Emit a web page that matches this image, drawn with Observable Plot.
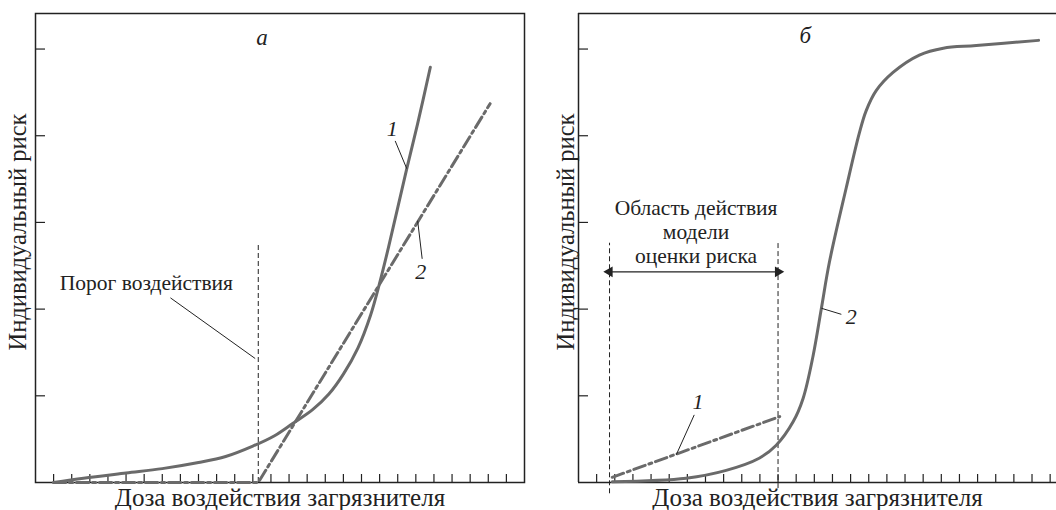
<!DOCTYPE html>
<html><head><meta charset="utf-8">
<script src="https://cdn.jsdelivr.net/npm/d3@7"></script>
<script src="https://cdn.jsdelivr.net/npm/@observablehq/plot@0.6"></script>
<style>
html,body{margin:0;padding:0;background:#fff;overflow:hidden}
#wrap{position:relative;width:1056px;height:510px}
#pa,#pb{position:absolute;top:0}
#pa{left:0}
#pb{left:528px}
svg{font-family:"Liberation Serif","Times New Roman",serif}
</style></head><body>
<div id="wrap"><div id="pa"></div><div id="pb"></div></div>
<script>
// ---- shared axis data ----
const xTicks = [1,2,3,4,5,6,7,8,9,10,11,12,13,14,15,16,17,18,19,20,21,22,23,24,25,26];
const yTicks = [1,2,3,4,5];
const xTitle = "Доза воздействия загрязнителя";
const yTitle = "Индивидуальный риск";

// ---- panel а ----
const aLabel = "а";
const aLabelPos = [12.5, 5.13];
const aCurve1X = [1.0, 2.65, 5.0, 7.0, 9.0, 10.5, 12.0, 13.2, 14.2, 15.3, 16.2, 17.0, 17.8, 18.5, 19.0, 19.5, 20.5, 21.1, 21.8];
const aCurve1Y = [0.0, 0.05, 0.11, 0.16, 0.23, 0.30, 0.42, 0.54, 0.68, 0.84, 1.02, 1.25, 1.55, 1.93, 2.30, 2.72, 3.62, 4.14, 4.79];
const aCurve2X = [1.0, 12.3, 25.1];
const aCurve2Y = [0.0, 0.0, 4.37];
const aThresholdX = [12.3];
const aThresholdTop = 2.76;
const aThresholdText = "Порог воздействия";
const aThresholdTextPos = [6.12, 2.30];
const aThresholdLeader = [7.45, 2.13, 12.13, 1.43];
const aNum1Pos = [19.7, 4.08];
const aNum1Leader = [19.86, 3.94, 20.5, 3.62];
const aNum2Pos = [21.27, 2.43];
const aNum2Leader = [21.1, 3.02, 21.35, 2.58];

// ---- panel б ----
const bLabel = "б";
const bLabelPos = [12.5, 5.16];
const bCurve2X = [1.86, 5.94, 8.14, 9.96, 10.9, 11.83, 12.38, 12.93, 13.39, 13.83, 14.76, 15.48, 15.86, 16.41, 17.34, 18.79, 20.11, 21.93, 25.36];
const bCurve2Y = [0.01, 0.05, 0.14, 0.28, 0.43, 0.70, 0.97, 1.46, 2.01, 2.54, 3.40, 4.03, 4.29, 4.52, 4.73, 4.93, 5.01, 5.04, 5.10];
const bCurve1X = [1.86, 11.09];
const bCurve1Y = [0.06, 0.76];
const bRangeX = [1.71, 11.0];
const bRangeTop = 2.76;
const bRangeBottom = [-0.13, -0.07];
const bArrowY = 2.43;
const bRangeText = "Область действия\nмодели\nоценки риска";
const bRangeTextPos = [6.48, 2.9];
const bNum1Pos = [6.59, 0.93];
const bNum1Leader = [5.39, 0.32, 6.38, 0.78];
const bNum2Pos = [15.04, 1.91];
const bNum2Leader = [13.39, 2.01, 14.49, 1.94];

// ---- styles ----
const curveColor = "#6a6a6a";
const frameColor = "#222";
const dashDot = "12,4,3,4";
const font = "Liberation Serif";

function pts(xs, ys) { return xs.map((x, i) => ({x, y: ys[i]})); }
function leader(a) { return [{x1: a[0], y1: a[1], x2: a[2], y2: a[3]}]; }

function common(yTitleDx) {
  return [
    Plot.ruleX(xTicks, {x: d => d, y1: 0, y2: 0, insetBottom: 8, stroke: frameColor, strokeWidth: 1.2}),
    Plot.ruleY(yTicks, {y: d => d, x1: 0, x2: 0, insetRight: -10, stroke: frameColor, strokeWidth: 1.2}),
    Plot.text([yTitle], {frameAnchor: "left", textAnchor: "middle", lineAnchor: "middle", rotate: -90, dx: yTitleDx, dy: -16, fontSize: 24.5, fill: "#222", fontFamily: font}),
    Plot.text([xTitle], {frameAnchor: "bottom", textAnchor: "middle", lineAnchor: "middle", dy: 15, fontSize: 25, fill: "#222", fontFamily: font})
  ];
}

// Panel а
const plotA = Plot.plot({
  width: 530, height: 510,
  marginLeft: 35, marginRight: 6, marginTop: 13, marginBottom: 28,
  x: {domain: [0, 27], axis: null},
  y: {domain: [0, 5.41], axis: null},
  style: {fontFamily: font, background: "#fff"},
  marks: [
    Plot.frame({stroke: frameColor, strokeWidth: 1.5}),
    ...common(-17),
    Plot.ruleX(aThresholdX, {x: d => d, y1: 0, y2: aThresholdTop, stroke: "#222", strokeWidth: 1, strokeDasharray: "5,3"}),
    Plot.line(pts(aCurve2X, aCurve2Y), {x: "x", y: "y", stroke: curveColor, strokeWidth: 3, strokeDasharray: dashDot}),
    Plot.line(pts(aCurve1X, aCurve1Y), {x: "x", y: "y", stroke: curveColor, strokeWidth: 3, curve: "catmull-rom"}),
    Plot.link(leader(aThresholdLeader), {x1: "x1", y1: "y1", x2: "x2", y2: "y2", stroke: "#222", strokeWidth: 1}),
    Plot.link(leader(aNum1Leader), {x1: "x1", y1: "y1", x2: "x2", y2: "y2", stroke: "#222", strokeWidth: 1}),
    Plot.link(leader(aNum2Leader), {x1: "x1", y1: "y1", x2: "x2", y2: "y2", stroke: "#222", strokeWidth: 1}),
    Plot.text([aThresholdText], {x: aThresholdTextPos[0], y: aThresholdTextPos[1], fontSize: 21.5, fill: "#222"}),
    Plot.text(["1"], {x: aNum1Pos[0], y: aNum1Pos[1], fontSize: 22, fontStyle: "italic", fill: "#222"}),
    Plot.text(["2"], {x: aNum2Pos[0], y: aNum2Pos[1], fontSize: 22, fontStyle: "italic", fill: "#222"}),
    Plot.text([aLabel], {x: aLabelPos[0], y: aLabelPos[1], fontSize: 23, fontStyle: "italic", fill: "#222"})
  ]
});
document.getElementById("pa").append(plotA);

// Panel б (right border lies beyond the picture edge)
const plotB = Plot.plot({
  width: 528, height: 510,
  marginLeft: 50, marginRight: 0, marginTop: 13, marginBottom: 28,
  x: {domain: [0, 26.35], axis: null},
  y: {domain: [0, 5.41], axis: null},
  style: {fontFamily: font, background: "#fff"},
  marks: [
    Plot.ruleX([0], {stroke: frameColor, strokeWidth: 1.5}),
    Plot.ruleY([0, 5.41], {stroke: frameColor, strokeWidth: 1.5}),
    ...common(-12),
    Plot.ruleX([bRangeX[0]], {x: d => d, y1: bRangeBottom[0], y2: bRangeTop, stroke: "#222", strokeWidth: 1, strokeDasharray: "5,3"}),
    Plot.ruleX([bRangeX[1]], {x: d => d, y1: bRangeBottom[1], y2: bRangeTop, stroke: "#222", strokeWidth: 1, strokeDasharray: "5,3"}),
    Plot.link([{x1: bRangeX[0], x2: bRangeX[1], y: bArrowY}], {x1: "x1", x2: "x2", y1: "y", y2: "y", stroke: "#222", strokeWidth: 1.3}),
    Plot.dot([{x: bRangeX[0], y: bArrowY, r: -90}, {x: bRangeX[1], y: bArrowY, r: 90}], {x: "x", y: "y", symbol: "triangle", rotate: "r", r: 4, fill: "#222"}),
    Plot.line(pts(bCurve1X, bCurve1Y), {x: "x", y: "y", stroke: curveColor, strokeWidth: 3, strokeDasharray: dashDot}),
    Plot.line(pts(bCurve2X, bCurve2Y), {x: "x", y: "y", stroke: curveColor, strokeWidth: 3, curve: "catmull-rom"}),
    Plot.link(leader(bNum1Leader), {x1: "x1", y1: "y1", x2: "x2", y2: "y2", stroke: "#222", strokeWidth: 1}),
    Plot.link(leader(bNum2Leader), {x1: "x1", y1: "y1", x2: "x2", y2: "y2", stroke: "#222", strokeWidth: 1}),
    Plot.text([bRangeText], {x: bRangeTextPos[0], y: bRangeTextPos[1], fontSize: 21.5, lineHeight: 1.13, fill: "#222"}),
    Plot.text(["1"], {x: bNum1Pos[0], y: bNum1Pos[1], fontSize: 22, fontStyle: "italic", fill: "#222"}),
    Plot.text(["2"], {x: bNum2Pos[0], y: bNum2Pos[1], fontSize: 22, fontStyle: "italic", fill: "#222"}),
    Plot.text([bLabel], {x: bLabelPos[0], y: bLabelPos[1], fontSize: 23, fontStyle: "italic", fill: "#222"})
  ]
});
document.getElementById("pb").append(plotB);
</script>
</body></html>
